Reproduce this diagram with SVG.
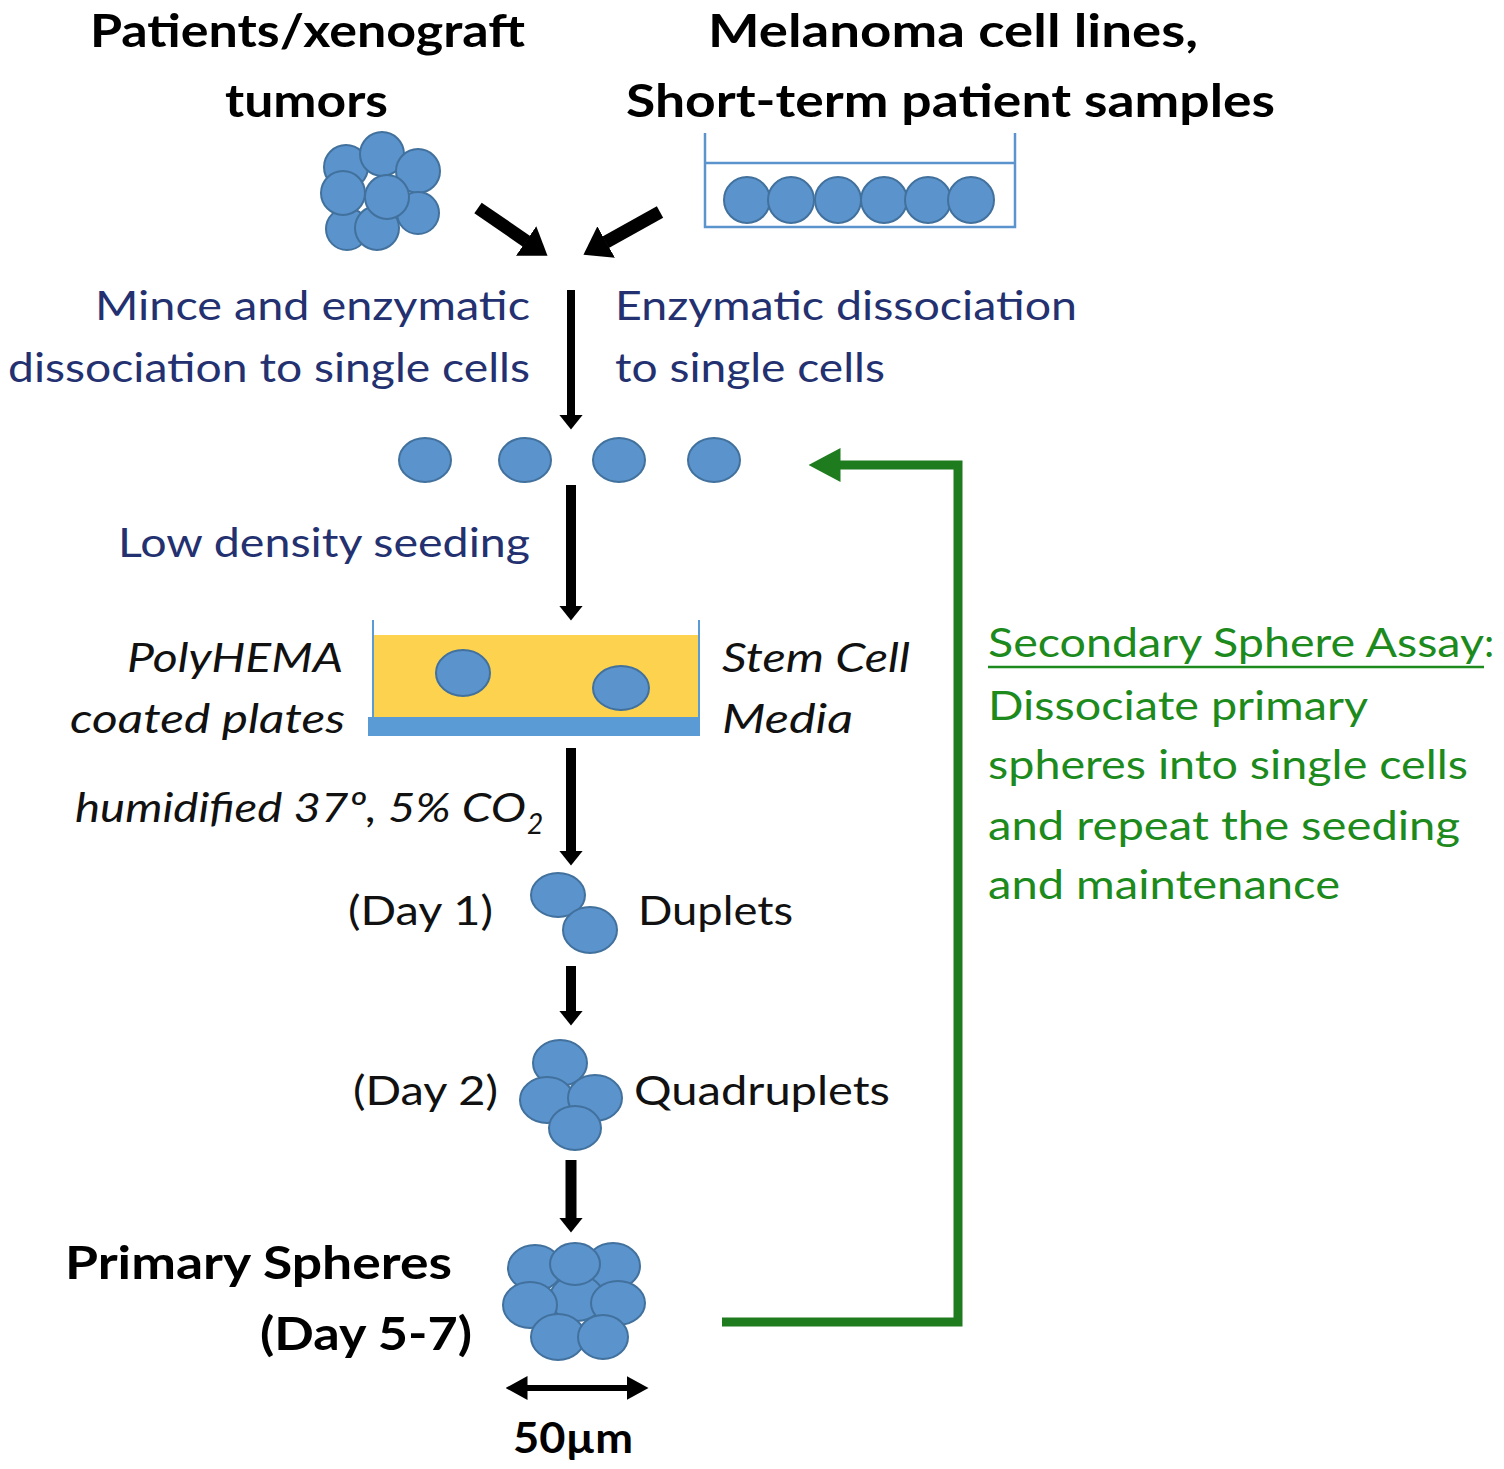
<svg xmlns="http://www.w3.org/2000/svg" width="1504" height="1469" viewBox="0 0 1504 1469">
<style>
.cell{fill:#5b93cd;stroke:#41719c;stroke-width:2}
.t{font-family:Lato,"Liberation Sans",sans-serif;font-size:41px}
.b{font-weight:bold;font-size:46px;fill:#000}
.i{font-style:italic;fill:#111}
.navy{fill:#243170}
.grn{fill:#1c8a1c}
.blk{fill:#111}
.arr{stroke:#000;fill:none}
</style>
<defs>
<marker id="ah" markerUnits="userSpaceOnUse" viewBox="0 0 15 24" refX="0.5" refY="12" markerWidth="15" markerHeight="24" orient="auto"><path d="M0,0 L15,12 L0,24 z" fill="#000"/></marker>
<marker id="ahBig" markerUnits="userSpaceOnUse" viewBox="0 0 26 36" refX="0.5" refY="18" markerWidth="26" markerHeight="36" orient="auto"><path d="M0,0 L26,18 L0,36 z" fill="#000"/></marker>
<marker id="ahBar" markerUnits="userSpaceOnUse" viewBox="0 0 22 24" refX="0.5" refY="12" markerWidth="22" markerHeight="24" orient="auto-start-reverse"><path d="M0,0 L22,12 L0,24 z" fill="#000"/></marker>
<marker id="ahG" markerUnits="userSpaceOnUse" viewBox="0 0 32 34" refX="0.5" refY="17" markerWidth="32" markerHeight="34" orient="auto"><path d="M0,0 L32,17 L0,34 z" fill="#1e7b1e"/></marker>
</defs>
<rect width="1504" height="1469" fill="#fff"/>

<g id="title-left">
<text class="t b" x="90" y="47" textLength="435" lengthAdjust="spacingAndGlyphs">Patients/xenograft</text>
<text class="t b" x="225" y="117" textLength="163" lengthAdjust="spacingAndGlyphs">tumors</text>
</g>
<g id="title-right">
<text class="t b" x="708" y="47" textLength="490" lengthAdjust="spacingAndGlyphs">Melanoma  cell lines,</text>
<text class="t b" x="626" y="117" textLength="649" lengthAdjust="spacingAndGlyphs">Short-term  patient  samples</text>
</g>

<g id="tumor-cluster">
<circle class="cell" cx="346" cy="167" r="22"/>
<circle class="cell" cx="382" cy="154" r="22"/>
<circle class="cell" cx="418" cy="171" r="22"/>
<circle class="cell" cx="418" cy="213" r="21"/>
<circle class="cell" cx="347" cy="229" r="21"/>
<circle class="cell" cx="377" cy="228" r="22"/>
<circle class="cell" cx="343" cy="193" r="22"/>
<circle class="cell" cx="387" cy="197" r="22"/>
</g>

<g id="cell-line-dish">
<path d="M705,133 V227 H1015 V133" fill="none" stroke="#5b93cd" stroke-width="2.5"/>
<line x1="705" y1="163" x2="1015" y2="163" stroke="#5b93cd" stroke-width="2.5"/>
<ellipse class="cell" cx="747" cy="200" rx="23" ry="23"/>
<ellipse class="cell" cx="791" cy="200" rx="23" ry="23"/>
<ellipse class="cell" cx="838" cy="200" rx="23" ry="23"/>
<ellipse class="cell" cx="884" cy="200" rx="23" ry="23"/>
<ellipse class="cell" cx="928" cy="200" rx="23" ry="23"/>
<ellipse class="cell" cx="971" cy="200" rx="23" ry="23"/>
</g>

<g id="dissociation-labels">
<text class="t navy" x="95" y="320" textLength="435" lengthAdjust="spacingAndGlyphs">Mince and enzymatic</text>
<text class="t navy" x="8" y="382" textLength="522" lengthAdjust="spacingAndGlyphs">dissociation to single cells</text>
<text class="t navy" x="615" y="320" textLength="462" lengthAdjust="spacingAndGlyphs">Enzymatic dissociation</text>
<text class="t navy" x="615" y="382" textLength="270" lengthAdjust="spacingAndGlyphs">to single cells</text>
</g>

<g id="single-cells">
<ellipse class="cell" cx="425" cy="460" rx="26" ry="22"/>
<ellipse class="cell" cx="525" cy="460" rx="26" ry="22"/>
<ellipse class="cell" cx="619" cy="460" rx="26" ry="22"/>
<ellipse class="cell" cx="714" cy="460" rx="26" ry="22"/>
</g>

<g id="seeding-label">
<text class="t navy" x="118" y="557" textLength="412" lengthAdjust="spacingAndGlyphs">Low density seeding</text>
</g>

<g id="polyhema-plate">
<rect x="373" y="635" width="326" height="82" fill="#fdd24f"/>
<rect x="368" y="717" width="332" height="19" fill="#5b9bd5"/>
<line x1="373" y1="620" x2="373" y2="717" stroke="#5b9bd5" stroke-width="2"/>
<line x1="699" y1="620" x2="699" y2="717" stroke="#5b9bd5" stroke-width="2"/>
<ellipse class="cell" cx="463" cy="673" rx="27" ry="23"/>
<ellipse class="cell" cx="621" cy="688" rx="28" ry="22"/>
<text class="t i" x="127" y="672" textLength="216" lengthAdjust="spacingAndGlyphs">PolyHEMA</text>
<text class="t i" x="70" y="733" textLength="275" lengthAdjust="spacingAndGlyphs">coated plates</text>
<text class="t i" x="722" y="672" textLength="188" lengthAdjust="spacingAndGlyphs">Stem Cell</text>
<text class="t i" x="722" y="733" textLength="131" lengthAdjust="spacingAndGlyphs">Media</text>
</g>

<g id="incubation-label">
<text class="t i" x="75" y="822" textLength="451" lengthAdjust="spacingAndGlyphs">humidified 37º, 5% CO</text>
<text class="t i" x="527" y="834" font-size="28" style="font-size:28px">2</text>
</g>

<g id="duplets">
<ellipse class="cell" cx="558" cy="895" rx="27" ry="22"/>
<ellipse class="cell" cx="590" cy="930" rx="27" ry="23"/>
<text class="t blk" x="348" y="925" textLength="145" lengthAdjust="spacingAndGlyphs">(Day 1)</text>
<text class="t blk" x="638" y="925" textLength="155" lengthAdjust="spacingAndGlyphs">Duplets</text>
</g>

<g id="quadruplets">
<ellipse class="cell" cx="560" cy="1063" rx="27" ry="23"/>
<ellipse class="cell" cx="547" cy="1100" rx="27" ry="23"/>
<ellipse class="cell" cx="595" cy="1098" rx="27" ry="23"/>
<ellipse class="cell" cx="575" cy="1128" rx="26" ry="22"/>
<text class="t blk" x="353" y="1105" textLength="145" lengthAdjust="spacingAndGlyphs">(Day 2)</text>
<text class="t blk" x="634" y="1105" textLength="256" lengthAdjust="spacingAndGlyphs">Quadruplets</text>
</g>

<g id="primary-spheres">
<ellipse class="cell" cx="535" cy="1268" rx="27" ry="23"/>
<ellipse class="cell" cx="613" cy="1266" rx="27" ry="23"/>
<ellipse class="cell" cx="577" cy="1298" rx="27" ry="23"/>
<ellipse class="cell" cx="530" cy="1305" rx="27" ry="23"/>
<ellipse class="cell" cx="618" cy="1303" rx="27" ry="22"/>
<ellipse class="cell" cx="575" cy="1264" rx="25" ry="21"/>
<ellipse class="cell" cx="558" cy="1337" rx="27" ry="23"/>
<ellipse class="cell" cx="603" cy="1337" rx="25" ry="22"/>
<text class="t b" x="65" y="1279" textLength="387" lengthAdjust="spacingAndGlyphs">Primary  Spheres</text>
<text class="t b" x="260" y="1350" textLength="212" lengthAdjust="spacingAndGlyphs">(Day 5-7)</text>
</g>

<g id="scale-bar">
<line x1="527" y1="1388" x2="627" y2="1388" stroke="#000" stroke-width="6" marker-start="url(#ahBar)" marker-end="url(#ahBar)"/>
<text class="t b" x="513" y="1453" textLength="120" lengthAdjust="spacingAndGlyphs" style="font-size:42px">50µm</text>
</g>

<g id="secondary-assay">
<text class="t grn" x="988" y="657" textLength="496" lengthAdjust="spacingAndGlyphs">Secondary Sphere Assay</text>
<text class="t grn" x="1484" y="657">:</text>
<line x1="988" y1="667" x2="1484" y2="667" stroke="#1c8a1c" stroke-width="2.5"/>
<text class="t grn" x="988" y="720" textLength="380" lengthAdjust="spacingAndGlyphs">Dissociate primary</text>
<text class="t grn" x="988" y="779" textLength="480" lengthAdjust="spacingAndGlyphs">spheres into single cells</text>
<text class="t grn" x="988" y="840" textLength="472" lengthAdjust="spacingAndGlyphs">and repeat the seeding</text>
<text class="t grn" x="988" y="899" textLength="352" lengthAdjust="spacingAndGlyphs">and maintenance</text>
</g>

<g id="connectors">
<line class="arr" x1="478" y1="208" x2="526.5" y2="241.3" stroke-width="13" marker-end="url(#ahBig)"/>
<line class="arr" x1="660" y1="212" x2="605.7" y2="242.3" stroke-width="13" marker-end="url(#ahBig)"/>
<line class="arr" x1="571" y1="290" x2="571" y2="415" stroke-width="8" marker-end="url(#ah)"/>
<line class="arr" x1="571" y1="485" x2="571" y2="606" stroke-width="10" marker-end="url(#ah)"/>
<line class="arr" x1="571" y1="748" x2="571" y2="851" stroke-width="10" marker-end="url(#ah)"/>
<line class="arr" x1="571" y1="966" x2="571" y2="1011" stroke-width="10" marker-end="url(#ah)"/>
<line class="arr" x1="571" y1="1160" x2="571" y2="1218" stroke-width="11" marker-end="url(#ah)"/>
<polyline points="722,1322 958,1322 958,465 840,465" fill="none" stroke="#1e7b1e" stroke-width="9" marker-end="url(#ahG)"/>
</g>
</svg>
